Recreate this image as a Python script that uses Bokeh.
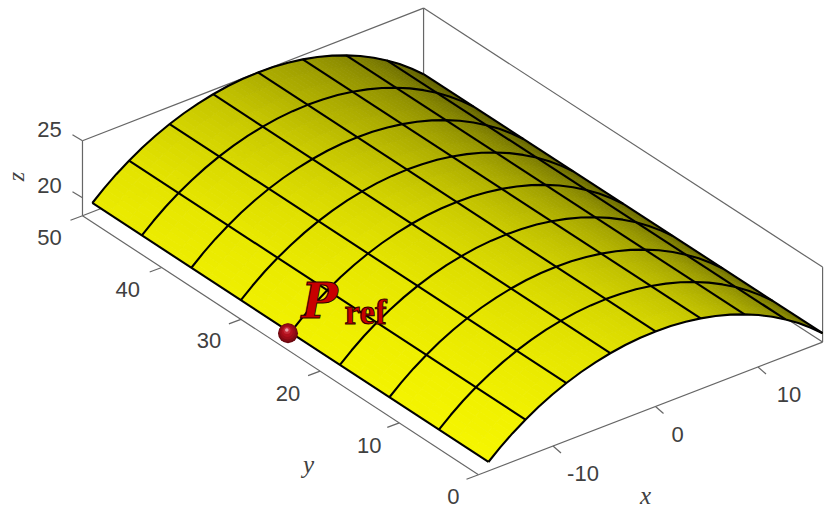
import numpy as np
from bokeh.plotting import figure
from bokeh.models import Range1d
from bokeh.core.properties import value
from bokeh.embed import file_html
from bokeh.resources import INLINE

# ---- data ----
arch_x = [-16.30,-15.15,-13.94,-12.69,-11.40,-10.06,-8.69,-7.29,-5.86,-4.41,-2.95,-1.48,0.00,
          1.48,2.95,4.41,5.86,7.29,8.69,10.06,11.40,12.69,13.94,15.15,16.30]
arch_z = [19.20,20.08,20.91,21.66,22.34,22.96,23.49,23.95,24.33,24.62,24.84,24.96,25.00,
          24.96,24.84,24.62,24.33,23.95,23.49,22.96,22.34,21.66,20.91,20.08,19.20]
mesh_x_index = [0,3,6,9,12,15,18,21,24]
mesh_y = [0,6.25,12.5,18.75,25,31.25,37.5,43.75,50]

x_ticks = [-10,0,10]
y_ticks = [0,10,20,30,40,50]
z_ticks = [20,25]
x_lim = [-17.27,16.3]
y_lim = [0,50]
z_lim = [18.42,25]
pref_point = (-16.3,25.3,19.0)

# brightness of the surface at the mesh columns, for y = 0, 25, 50
shade_y = [0,25,50]
shade_front = [246,241,234,226,215,198,174,144,112]
shade_mid   = [241,236,228,216,200,178,153,125,102]
shade_back  = [234,226,212,195,172,154,134,110,92]

# ---- projection onto the page ----
def proj(x,y,z):
    x,y,z = np.asarray(x,float),np.asarray(y,float),np.asarray(z,float)
    u = 655 + 10.25*x - 7.92*y - 0.00179*(x+17.27)*y
    v = 406 - 3.95*x - 5.18*y - 11.4*(z-18.42)
    return u,v

W,H = 830,513
p = figure(width=W,height=H,output_backend="svg",toolbar_location=None,
           x_range=Range1d(0,W),y_range=Range1d(H,0),min_border=0)
p.axis.visible = False
p.grid.visible = False
p.outline_line_color = None
p.background_fill_color = "white"

# ---- box ----
BOX = "#666666"
x0,x1 = x_lim; y0,y1 = y_lim; z0,z1 = z_lim
edges = [((x0,y1,z1),(x1,y1,z1)),((x1,y1,z1),(x1,y0,z1)),
         ((x0,y1,z0),(x0,y1,z1)),((x1,y1,z0),(x1,y1,z1)),((x1,y0,z0),(x1,y0,z1)),
         ((x0,y0,z0),(x0,y1,z0)),((x0,y0,z0),(x1,y0,z0)),
         ((x0,y1,z0),(x1,y1,z0)),((x1,y1,z0),(x1,y0,z0))]
xs,ys = [],[]
for a,b in edges:
    ua,va = proj(*a); ub,vb = proj(*b)
    xs.append([float(ua),float(ub)]); ys.append([float(va),float(vb)])
# ticks
for t in x_ticks:
    u,v = proj(t,y0,z0); xs.append([float(u),float(u)+8]); ys.append([float(v),float(v)+7])
for t in y_ticks:
    u,v = proj(x0,t,z0); xs.append([float(u),float(u)-12]); ys.append([float(v),float(v)+4.5])
for t in z_ticks:
    u,v = proj(x0,y1,t); xs.append([float(u),float(u)-10]); ys.append([float(v),float(v)-6])
p.multi_line(xs,ys,line_color=BOX,line_width=1.2)

# ---- surface ----
ax = np.array(arch_x); az = np.array(arch_z)
col_pos = np.array(mesh_x_index,float)
shade = np.array([shade_front,shade_mid,shade_back],float)
y_fine = np.interp(np.arange(0,24.01)/3,np.arange(9),mesh_y)
SUB = 3
qx,qy,qc = [],[],[]
for i in range(len(ax)-1):
    for s in range(SUB):
        f0,f1 = s/SUB,(s+1)/SUB
        xa,xb = ax[i]+(ax[i+1]-ax[i])*f0, ax[i]+(ax[i+1]-ax[i])*f1
        za,zb = az[i]+(az[i+1]-az[i])*f0, az[i]+(az[i+1]-az[i])*f1
        pos = i+(s+.5)/SUB
        row = [np.interp(pos,col_pos,shade[k]) for k in range(3)]
        for j in range(len(y_fine)-1):
            u,v = proj([xa,xb,xb,xa],[y_fine[j],y_fine[j],y_fine[j+1],y_fine[j+1]],[za,zb,zb,za])
            ym = .5*(y_fine[j]+y_fine[j+1])
            b = int(round(np.interp(ym,shade_y,row)))
            qx.append(u.tolist()); qy.append(v.tolist()); qc.append(f"#{b:02x}{b:02x}00")
p.patches(qx,qy,fill_color=qc,line_color=qc,line_width=0.8)

# ---- mesh lines ----
mx,my = [],[]
for yv in mesh_y:
    u,v = proj(ax,np.full(ax.shape,yv),az)
    mx.append(u.tolist()); my.append(v.tolist())
for idx in mesh_x_index:
    u,v = proj([ax[idx]]*2,[y0,y1],[az[idx]]*2)
    mx.append(u.tolist()); my.append(v.tolist())
p.multi_line(mx,my,line_color="#000000",line_width=2.1,line_join="round")

# ---- tick labels ----
GREY = "#404040"
lab = []
for t,(dx,dy) in zip(x_ticks,[(30,27),(22,28),(31,27)]):
    u,v = proj(t,y0,z0); lab.append((float(u)+dx,float(v)+dy,str(t)))
for t,(dx,dy) in zip(y_ticks,[(-25,22),(-30,23),(-32,22),(-32,21),(-34,22),(-33,22)]):
    u,v = proj(x0,t,z0); lab.append((float(u)+dx,float(v)+dy,str(t)))
for t,(dx,dy) in zip(z_ticks,[(-33,-12),(-33,-11)]):
    u,v = proj(x0,y1,t); lab.append((float(u)+dx,float(v)+dy,str(t)))
p.text([l[0] for l in lab],[l[1] for l in lab],text=[l[2] for l in lab],
       text_font=value("Liberation Sans"),text_font_size="22px",text_color=GREY,
       text_align="center",text_baseline="middle")

# ---- axis labels ----
p.text([645,308],[495,464],text=["x","y"],text_font=value("Liberation Serif"),
       text_font_style="italic",text_font_size="25px",text_color=GREY,
       text_align="center",text_baseline="middle")
p.text([15],[176],text=["z"],text_font=value("Liberation Serif"),angle=np.pi/2,
       text_font_style="italic",text_font_size="24px",text_color=GREY,
       text_align="center",text_baseline="middle")

# ---- reference point ----
u,v = proj(*pref_point); u,v = float(u),float(v)
for r,(ox,oy),c in [(10,(0,0),"#6a0810"),(9,(-.2,-.6),"#860a14"),(7.5,(-.4,-1.2),"#9c0c18"),
                    (5.5,(-.7,-1.8),"#b0101c"),(3.5,(-1,-2.6),"#c42a38"),(1.8,(-1.2,-3.2),"#eaa0a8")]:
    p.scatter([u+ox],[v+oy],size=2*r,marker="circle",fill_color=c,line_color=None)

p.text([301],[300],text=["P"],text_font=value("DejaVu Serif"),text_font_style="bold italic",
       text_font_size="48px",text_color="#c80000",text_baseline="middle",
       outline_color="#300000")
p.text([344],[312],text=["ref"],text_font=value("Liberation Serif"),text_font_style="bold",
       text_font_size="35px",text_color="#c80000",text_baseline="middle",
       outline_color="#300000")

open("out.html","w").write(file_html(p,INLINE))
